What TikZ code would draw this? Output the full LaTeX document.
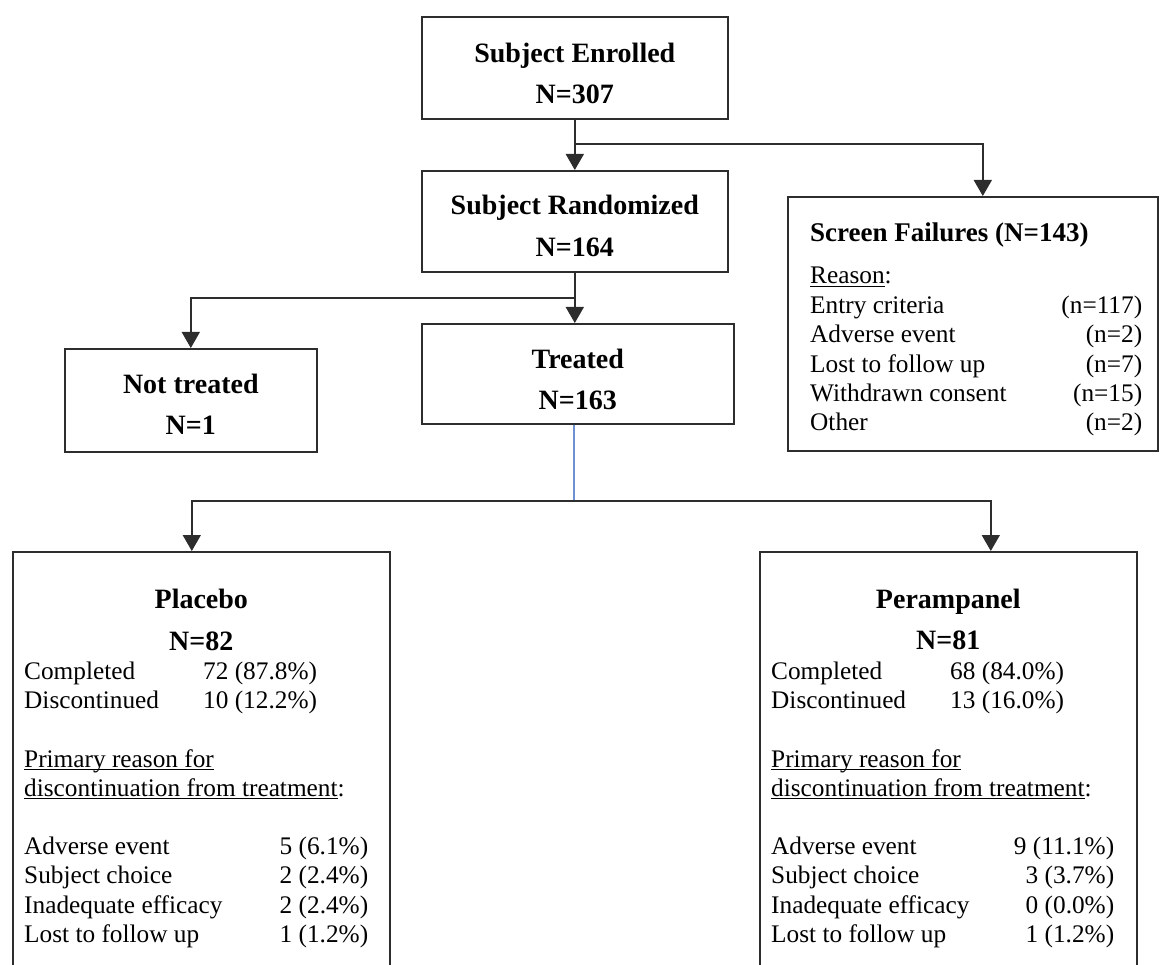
\documentclass[tikz,border=0pt]{standalone}
\usepackage{fontspec}
\setmainfont{Liberation Serif}
\usetikzlibrary{arrows.meta}

\definecolor{linkgray}{RGB}{45,45,45}
\definecolor{treatblue}{RGB}{110,145,210}

\newcommand{\statrow}[2]{\makebox[179pt][l]{#1}#2}
\newcommand{\reasonrow}[3]{\makebox[#1]{#2\hfill #3}}
\newcommand{\undl}[1]{\setbox0\hbox{#1}\rlap{\rule[-3pt]{\wd0}{1.1pt}}\box0}

\tikzset{
  box/.style={draw=linkgray, line width=1.6pt, anchor=north west, inner sep=0},
  ttl/.style={font=\fontsize{28}{30}\selectfont\bfseries, inner sep=0, anchor=base},
  txt/.style={font=\fontsize{25.3}{29}\selectfont, inner sep=0, anchor=base west},
  link/.style={draw=linkgray, line width=1.6pt}
}

\begin{document}
\begin{tikzpicture}[x=1pt,y=-1pt,>={Triangle[width=18pt,length=16pt]}]
\useasboundingbox (0,0) rectangle (1161,965);

% boxes
\node[box, minimum width=306, minimum height=102] (enrol) at (421,16) {};
\node[box, minimum width=306, minimum height=101] (rand) at (421,170) {};
\node[box, minimum width=312, minimum height=100] (treat) at (421,323) {};
\node[box, minimum width=252, minimum height=103] (nott) at (64,348) {};
\node[box, minimum width=370, minimum height=254] (sf) at (787,196) {};
\node[box, minimum width=377, minimum height=440] (plc) at (12,551) {};
\node[box, minimum width=377, minimum height=440] (per) at (759,551) {};

% box titles
\node[ttl] (enrolA) at ([yshift=-47pt]enrol.north) {Subject Enrolled};
\node[ttl] (enrolB) at ([yshift=-88pt]enrol.north) {N=307};
\node[ttl] (randA) at ([yshift=-45pt]rand.north) {Subject Randomized};
\node[ttl] (randB) at ([yshift=-87pt]rand.north) {N=164};
\node[ttl] (treatA) at ([yshift=-45pt]treat.north) {Treated};
\node[ttl] (treatB) at ([yshift=-86pt]treat.north) {N=163};
\node[ttl] (nottA) at ([yshift=-45pt]nott.north) {Not treated};
\node[ttl] (nottB) at ([yshift=-86pt]nott.north) {N=1};
\node[ttl] (plcA) at ([yshift=-57pt]plc.north) {Placebo};
\node[ttl] (plcB) at ([yshift=-99pt]plc.north) {N=82};
\node[ttl] (perA) at ([yshift=-57pt]per.north) {Perampanel};
\node[ttl] (perB) at ([yshift=-98pt]per.north) {N=81};

% screen failures
\node[ttl, anchor=base west, font=\fontsize{27}{30}\selectfont\bfseries] (sfA) at (810,242) {Screen Failures (N=143)};
\node[txt] (sfR) at (810,284) {\undl{Reason}:};
\node[txt] (sf1) at (810,313) {\reasonrow{332pt}{Entry criteria}{(n=117)}};
\node[txt] (sf2) at (810,342) {\reasonrow{332pt}{Adverse event}{(n=2)}};
\node[txt] (sf3) at (810,372) {\reasonrow{332pt}{Lost to follow up}{(n=7)}};
\node[txt] (sf4) at (810,401) {\reasonrow{332pt}{Withdrawn consent}{(n=15)}};
\node[txt] (sf5) at (810,430) {\reasonrow{332pt}{Other}{(n=2)}};

% placebo
\node[txt] (plc1) at (24,679) {\statrow{Completed}{72 (87.8\%)}};
\node[txt] (plc2) at (24,708) {\statrow{Discontinued}{10 (12.2\%)}};
\node[txt] (plc3) at (24,767) {\undl{Primary reason for}};
\node[txt] (plc4) at (24,796) {\undl{discontinuation from treatment}:};
\node[txt] (plc5) at (24,854) {\reasonrow{344pt}{Adverse event}{5 (6.1\%)}};
\node[txt] (plc6) at (24,883) {\reasonrow{344pt}{Subject choice}{2 (2.4\%)}};
\node[txt] (plc7) at (24,913) {\reasonrow{344pt}{Inadequate efficacy}{2 (2.4\%)}};
\node[txt] (plc8) at (24,942) {\reasonrow{344pt}{Lost to follow up}{1 (1.2\%)}};

% perampanel
\node[txt] (per1) at (771,679) {\statrow{Completed}{68 (84.0\%)}};
\node[txt] (per2) at (771,708) {\statrow{Discontinued}{13 (16.0\%)}};
\node[txt] (per3) at (771,767) {\undl{Primary reason for}};
\node[txt] (per4) at (771,796) {\undl{discontinuation from treatment}:};
\node[txt] (per5) at (771,854) {\reasonrow{343pt}{Adverse event}{9 (11.1\%)}};
\node[txt] (per6) at (771,883) {\reasonrow{343pt}{Subject choice}{3 (3.7\%)}};
\node[txt] (per7) at (771,913) {\reasonrow{343pt}{Inadequate efficacy}{0 (0.0\%)}};
\node[txt] (per8) at (771,942) {\reasonrow{343pt}{Lost to follow up}{1 (1.2\%)}};

% connectors
\coordinate (brA) at (574,144);
\coordinate (brB) at (574,298);
\coordinate (brC) at (574,501);
\draw[link,->] (enrol.south) -- (rand.north);
\draw[link,->] (brA) -| ([xshift=10pt]sf.north);
\draw[link,->] (rand.south) -- (rand.south |- treat.north);
\draw[link,->] (brB) -| (nott.north);
\draw[treatblue, line width=1.2pt] (brC |- treat.south) -- (brC);
\draw[link,->] (brC) -| ([xshift=-9.5pt]plc.north);
\draw[link,->] (brC) -| ([xshift=42.5pt]per.north);
\end{tikzpicture}
\end{document}
